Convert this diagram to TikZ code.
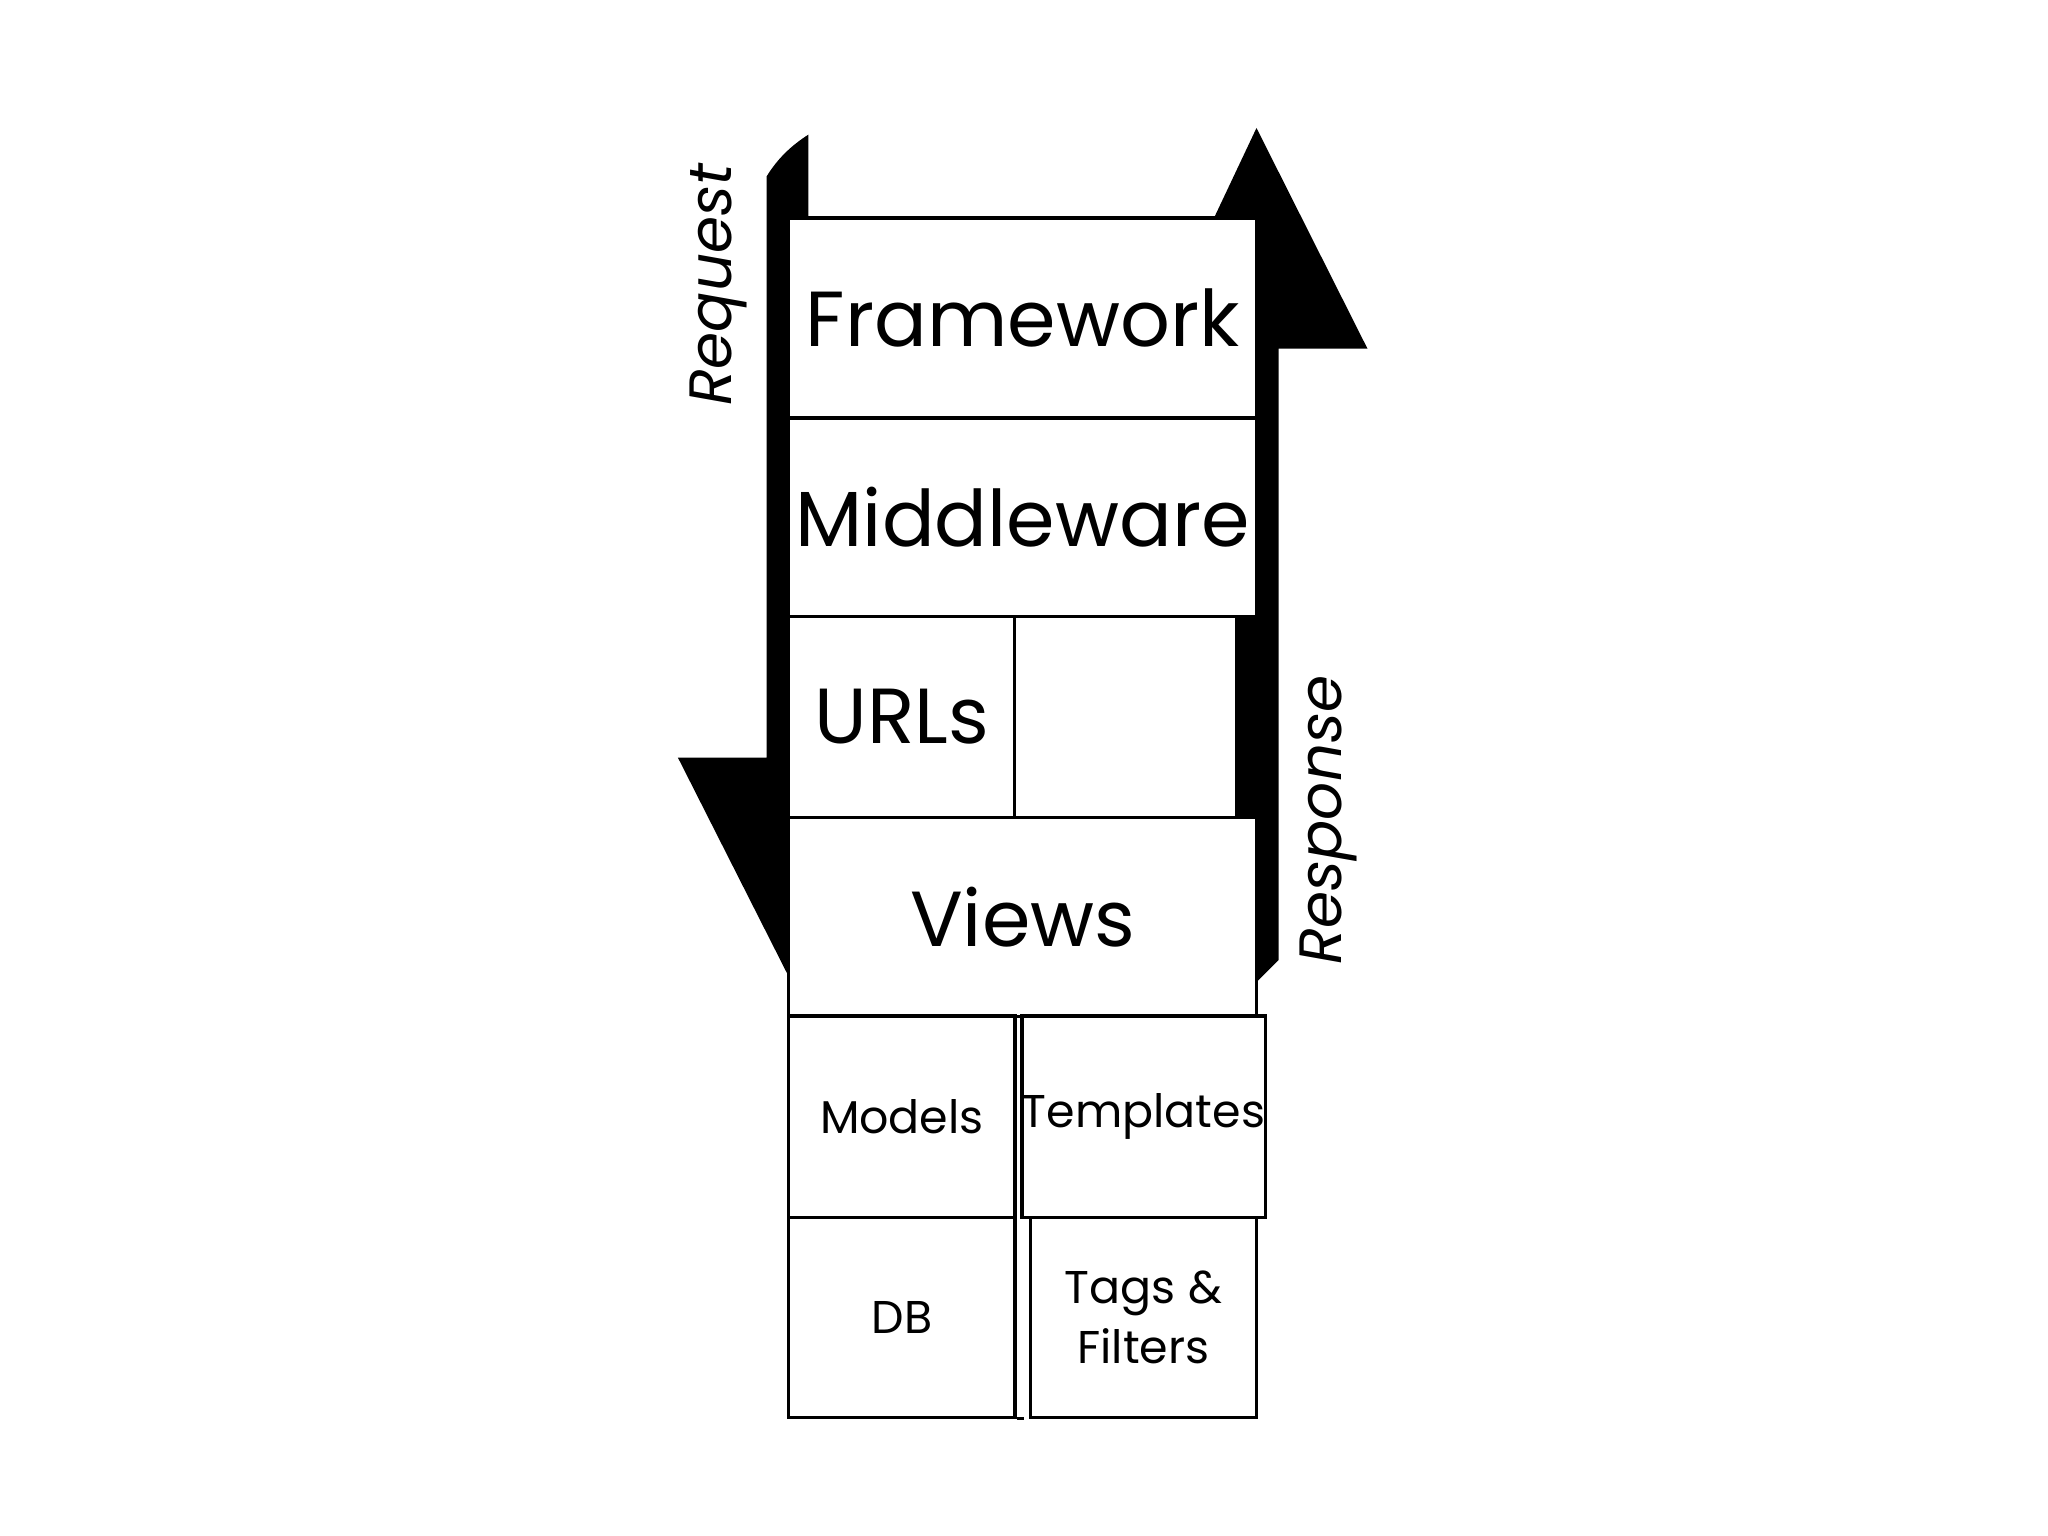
\documentclass[tikz,border=0pt]{standalone}
\usepackage{fontspec}
\setmainfont{Poppins}
\begin{document}
\begin{tikzpicture}[x=0.01cm,y=-0.01cm,
  box/.style={draw=black,fill=white,line width=0.7pt,inner sep=0pt},
  big/.style={font=\fontsize{17}{20}\selectfont},
  small/.style={font=\fontsize{10}{13}\selectfont,align=center},
  side/.style={font=\fontsize{13}{15}\selectfont\itshape,rotate=90}]
\useasboundingbox (0,0) rectangle (1568,1176);
% black arrows
\fill (587,135) .. controls (595,122) and (605,112) .. (619,103) -- (619,170) -- (604,170) -- (604,748) -- (519,580) -- (587,580) -- cycle;
\fill (962,98) -- (1047,267) -- (979,267) -- (979,735) -- (962,752) -- (962,170) -- (928,170) -- cycle;
\fill (940,472) rectangle (965,626);
% boxes
\node[box,big,minimum width=358\pgflinewidth/0.7*0.7,minimum width=3.58cm,minimum height=1.53cm] (fw) at (783,243.5) {Framework};
\node[box,big,minimum width=3.58cm,minimum height=1.52cm] (mw) at (783,396) {Middleware};
\node[box,big,minimum width=1.73cm,minimum height=1.54cm] (url) at (690.5,549) {URLs};
\node[box,minimum width=1.70cm,minimum height=1.54cm] (empty) at (862,549) {};
\node[box,big,minimum width=3.58cm,minimum height=1.52cm] (views) at (783,702) {Views};
\node[box,small,minimum width=1.73cm,minimum height=1.54cm] (models) at (690.5,855) {Models};
\node[box,small,minimum width=1.73cm,minimum height=1.53cm] (db) at (690.5,1008.5) {DB};
\node[box,small,minimum width=1.73cm,minimum height=1.54cm] (tpl) at (875.5,855) {Templates};
\node[box,small,minimum width=1.73cm,minimum height=1.53cm] (tags) at (875.5,1008.5) {Tags \&\\Filters};
\draw[line width=0.7pt] (db.south east) -- ++(6,0);
\node[side] (req) at (550,218) {Request};
\node[side] (resp) at (1017,628) {Response};
\end{tikzpicture}
\end{document}
